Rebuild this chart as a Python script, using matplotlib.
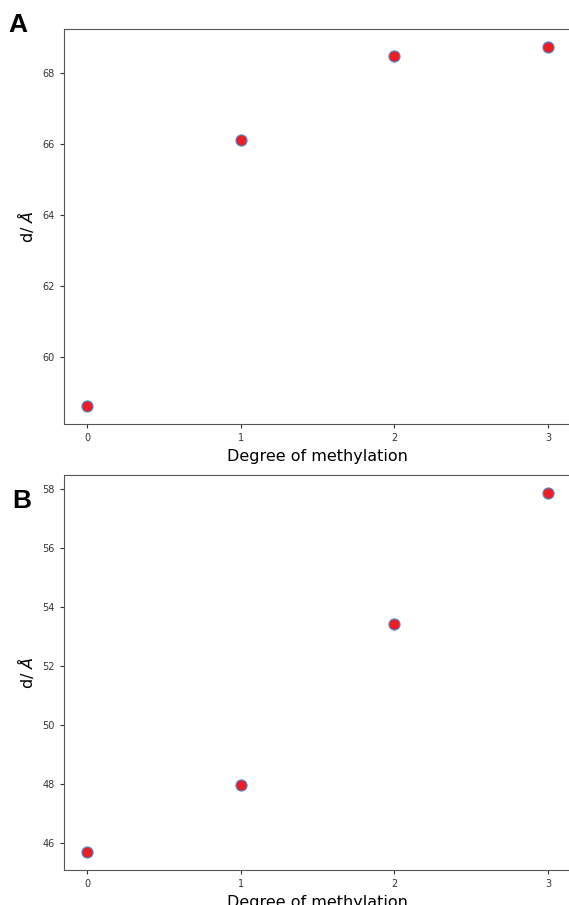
import matplotlib
matplotlib.use("Agg")
import matplotlib.pyplot as plt

# Data
methylation = [0, 1, 2, 3]
d_panel_a = [58.62, 66.12, 68.48, 68.73]
d_panel_b = [45.69, 47.98, 53.44, 57.88]
panel_labels = ["A", "B"]

fig = plt.figure(figsize=(5.69, 9.05), dpi=100)

ax_a = fig.add_axes([0.1125, 0.5315, 0.891, 0.4365])
ax_b = fig.add_axes([0.1125, 0.0387, 0.891, 0.4365])

for ax, d in [(ax_a, d_panel_a), (ax_b, d_panel_b)]:
    ax.plot(methylation, d, "o", ms=8, mfc="#ee1c25", mec="#4a8ccc", mew=0.8, ls="none")
    ax.set_xticks(methylation)
    ax.tick_params(labelsize=7, colors="#333333", length=3)
    ax.set_xlabel("Degree of methylation", fontsize=11.5)
    ax.set_ylabel(r"d/ $\AA$", fontsize=11.5, labelpad=5)
    for sp in ax.spines.values():
        sp.set_color("#555555")
    # the reference is cropped right at the right-hand spine
    ax.spines["right"].set_visible(False)

fig.text(0.014, 0.9646, panel_labels[0], fontsize=19, fontweight="bold",
         family="Liberation Sans")
fig.text(0.021, 0.4387, panel_labels[1], fontsize=19, fontweight="bold",
         family="Liberation Sans")

fig.savefig("out.png", dpi=100)
